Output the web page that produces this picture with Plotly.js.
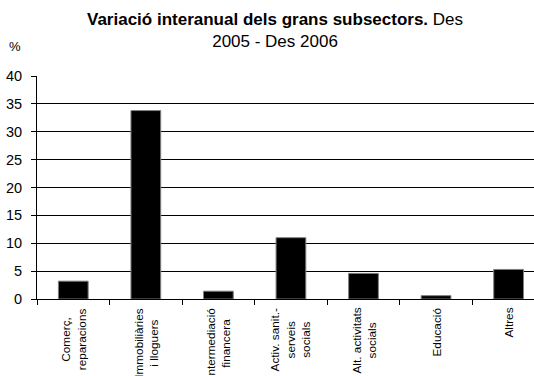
<!DOCTYPE html>
<html>
<head>
<meta charset="utf-8">
<script src="https://cdn.plot.ly/plotly-3.0.1.min.js"></script>
<style>html,body{margin:0;padding:0;background:#fff;overflow:hidden}#chart{width:534px;height:376px}</style>
</head>
<body>
<div id="chart"></div>
<script>
const categories = ["Comerç, reparacions", "Immobiliàries i lloguers", "Intermediació financera", "Activ. sanit.- serveis socials", "Alt. activitats socials", "Educació", "Altres"];
const tickLabels = ["Comerç,<br>reparacions", "Immobiliàries<br>i lloguers", "Intermediació<br>financera", "Activ. sanit.-<br>serveis<br>socials", "Alt. activitats<br>socials", "Educació", "Altres"];
const values = [3.2, 33.8, 1.4, 11.0, 4.6, 0.6, 5.3];
const titleText = "<b>Variació interanual dels grans subsectors.</b> Des<br>2005 - Des 2006";
const unitLabel = "%";

const FONT = "Liberation Sans, Arial, sans-serif";

const trace = {
  type: "bar",
  x: categories,
  y: values,
  width: 0.41,
  marker: {color: "#000000", line: {color: "#7f7f7f", width: 1}},
  hoverinfo: "none"
};

const annotations = categories.map((c, i) => ({
  x: c, xref: "x", y: 0, yref: "paper",
  yanchor: "top", xanchor: "center", yshift: -7,
  text: tickLabels[i], textangle: -90, align: "center",
  showarrow: false,
  font: {family: FONT, size: 11.8, color: "#000"}
}));
annotations.push({
  x: 0, xref: "paper", xanchor: "center", xshift: -22,
  y: 1, yref: "paper", yanchor: "middle", yshift: 30,
  text: unitLabel, showarrow: false,
  font: {family: FONT, size: 13, color: "#000"}
});
annotations.push({
  x: 0.479, xref: "paper", xanchor: "center",
  y: 1, yref: "paper", yanchor: "top", yshift: 68,
  text: titleText, align: "center", showarrow: false,
  font: {family: FONT, size: 17, color: "#000"}
});

const layout = {
  width: 534, height: 376,
  margin: {l: 37, r: 0, t: 76, b: 77},
  paper_bgcolor: "#fff", plot_bgcolor: "#fff",
  showlegend: false,
  font: {family: FONT, color: "#000"},
  xaxis: {
    type: "category",
    range: [-0.5, 6.35],
    tickson: "boundaries",
    ticks: "outside", ticklen: 5, tickcolor: "#000", tickwidth: 1,
    showticklabels: false,
    showline: true, linecolor: "#000", linewidth: 1,
    showgrid: false, zeroline: false, fixedrange: true
  },
  yaxis: {
    range: [0, 40], dtick: 5, tick0: 0,
    ticks: "outside", ticklen: 5, tickcolor: "#000",
    ticklabelstandoff: 6,
    showline: true, linecolor: "#000", linewidth: 1,
    showgrid: true, gridcolor: "#000", gridwidth: 1,
    zeroline: false,
    tickfont: {family: FONT, size: 14.5, color: "#000"},
    fixedrange: true
  },
  annotations: annotations
};

Plotly.newPlot("chart", [trace], layout, {displayModeBar: false, staticPlot: true});
</script>
</body>
</html>
